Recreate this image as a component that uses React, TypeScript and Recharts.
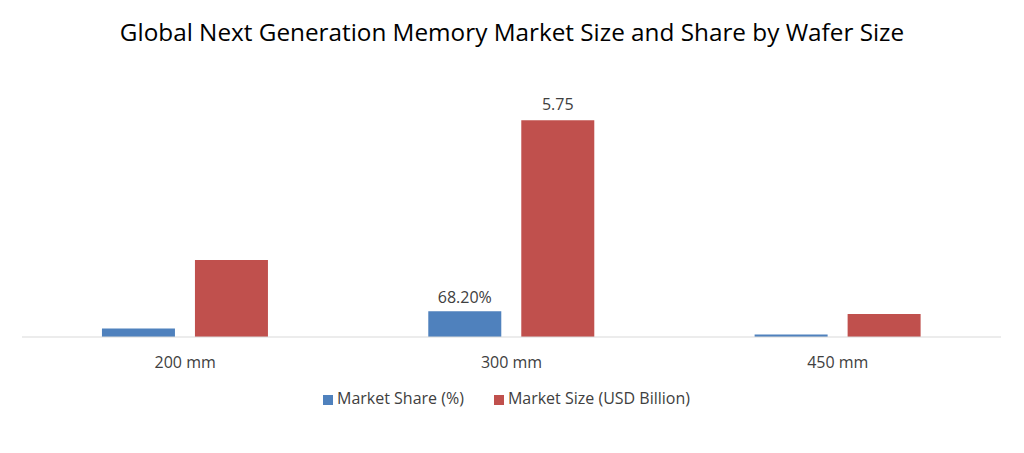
import { Bar, BarChart, LabelList, Legend, XAxis, YAxis } from "recharts";

const waferSizes = ["200 mm", "300 mm", "450 mm"];
const marketShare = [0.224, 0.682, 0.065];
const marketSize = [2.04, 5.75, 0.61];
const shareLabels = ["", "68.20%", ""];
const sizeLabels = ["", "5.75", ""];

const data = waferSizes.map((wafer, i) => ({
  wafer,
  share: marketShare[i],
  size: marketSize[i],
  shareLabel: shareLabels[i],
  sizeLabel: sizeLabels[i],
}));

const font = "'Open Sans', 'Noto Sans', sans-serif";

export default function App() {
  return (
    <div style={{ position: "absolute", left: 0, top: 0, width: 1024, height: 453, background: "#fff", fontFamily: font }}>
      <div
        style={{
          position: "absolute",
          top: 15,
          left: 0,
          width: 1024,
          textAlign: "center",
          fontSize: 24.3,
          color: "#000",
        }}
      >
        Global Next Generation Memory Market Size and Share by Wafer Size
      </div>
      <BarChart
        width={1024}
        height={453}
        data={data}
        margin={{ top: 73, right: 23, left: 22, bottom: 44 }}
        barCategoryGap="24.5%"
        barGap={20}
      >
        <XAxis
          dataKey="wafer"
          height={50}
          tickLine={false}
          tickMargin={14}
          axisLine={{ stroke: "#d9d9d9" }}
          tick={{ fontSize: 16, fill: "#404040", fontFamily: font }}
        />
        <YAxis hide domain={[0, 7]} />
        <Legend
          verticalAlign="bottom"
          iconType="square"
          iconSize={10}
          wrapperStyle={{ fontSize: 16, fontFamily: font }}
          formatter={(v, _e, i) => (
            <span style={{ color: "#404040", marginRight: i === 0 ? 20 : 0 }}>{v}</span>
          )}
        />
        <Bar dataKey="share" name="Market Share (%)" fill="#4f81bd" isAnimationActive={false}>
          <LabelList dataKey="shareLabel" position="top" offset={8} style={{ fontSize: 16, fill: "#404040", fontFamily: font }} />
        </Bar>
        <Bar dataKey="size" name="Market Size (USD Billion)" fill="#c0504d" isAnimationActive={false}>
          <LabelList dataKey="sizeLabel" position="top" offset={10} style={{ fontSize: 16, fill: "#404040", fontFamily: font }} />
        </Bar>
      </BarChart>
    </div>
  );
}
